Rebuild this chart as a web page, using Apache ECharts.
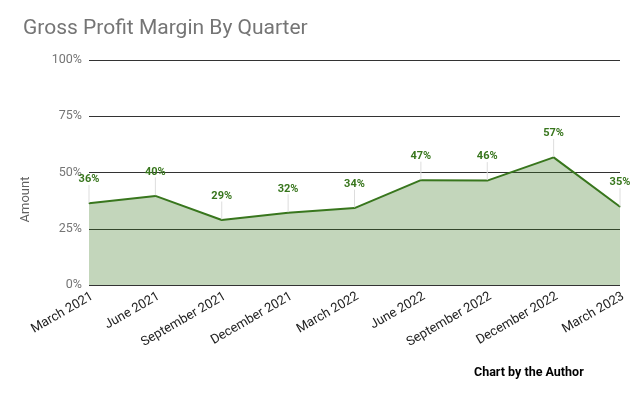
<!DOCTYPE html>
<html><head><meta charset="utf-8">
<script src="https://cdn.jsdelivr.net/npm/echarts@6/dist/echarts.min.js"></script>
<style>html,body{margin:0;padding:0;background:#fff}#c{width:640px;height:396px}</style>
</head><body><div id="c"></div>
<script>
const categories = ['March 2021','June 2021','September 2021','December 2021','March 2022','June 2022','September 2022','December 2022','March 2023'];
const margins = [36.3, 39.6, 28.9, 32.1, 34.2, 46.6, 46.4, 56.7, 34.8];
const labelText = ['36%','40%','29%','32%','34%','47%','46%','57%','35%'];
const yTicks = [0, 25, 50, 75, 100];

const chart = echarts.init(document.getElementById('c'), null, {renderer:'canvas'});
chart.setOption({
  animation:false,
  backgroundColor:'#fff',
  textStyle:{fontFamily:'Roboto'},
  title:[{
    text:'Gross Profit Margin By Quarter', left:18, top:13,
    textStyle:{fontFamily:'Roboto', fontSize:21, fontWeight:'normal', color:'#757575'}
  },{
    text:'Chart by the Author', left:469, top:361,
    textStyle:{fontFamily:'Roboto', fontSize:12.5, fontWeight:'bold', color:'#000'}
  }],
  grid:{left:89, right:20, top:60, bottom:111},
  xAxis:{
    type:'category', data:categories, boundaryGap:false,
    axisLine:{show:false}, axisTick:{show:false},
    axisLabel:{rotate:30, interval:0, margin:5, verticalAlign:'top', color:'#222', fontSize:13, fontFamily:'Roboto'}
  },
  yAxis:{
    type:'value', min:yTicks[0], max:yTicks[yTicks.length-1], interval:25,
    name:'Amount', nameLocation:'middle', nameGap:57,
    nameTextStyle:{color:'#616161', fontSize:13, fontFamily:'Roboto', padding:[0,54,0,0]},
    axisLine:{show:false}, axisTick:{show:false},
    axisLabel:{formatter:'{value}%', color:'#757575', fontSize:12.5, margin:7},
    splitLine:{lineStyle:{color:'#333', width:1.2}}
  },
  series:[{
    type:'line', data:margins, symbol:'circle', symbolSize:1, showSymbol:true,
    itemStyle:{color:'#38761d', borderWidth:0},
    lineStyle:{color:'#38761d', width:2},
    areaStyle:{color:'#38761d', opacity:0.3},
    label:{show:true, position:'top', distance:0,
      formatter:p=>labelText[p.dataIndex],
      color:'#38761d', fontWeight:'bold', fontSize:11, fontFamily:'Roboto'},
    labelLayout:{dy:-18},
    labelLine:{show:true, lineStyle:{color:'#ddd', width:1}},
    z:3
  }]
});
</script></body></html>
